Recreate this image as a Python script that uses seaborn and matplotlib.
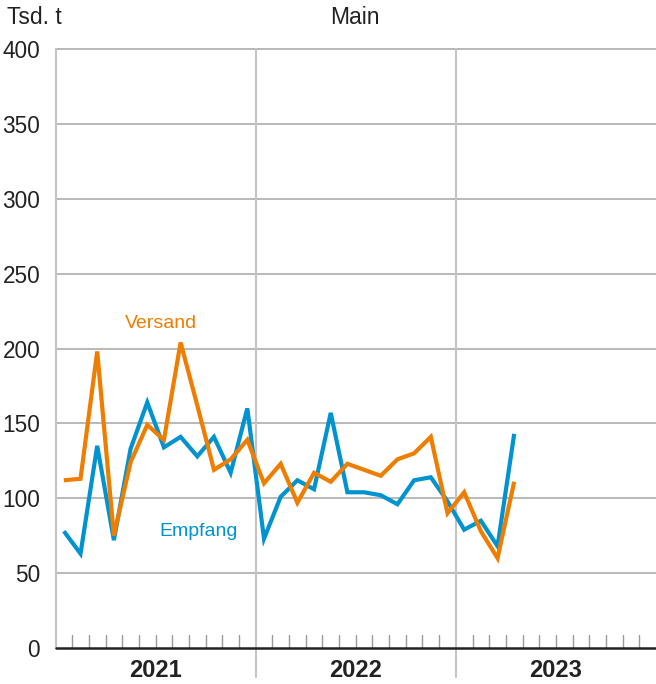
import matplotlib
matplotlib.use("Agg")
import matplotlib.pyplot as plt
import numpy as np
import pandas as pd
import seaborn as sns

# Monthly freight volume at the Main waterway, thousand tonnes (Jan 2021 onward)
months = np.arange(28)
empfang = [78, 63, 135, 72, 133, 164, 134, 141, 128, 141, 117, 160,
           73, 101, 112, 106, 157, 104, 104, 102, 96, 112, 114, 98,
           79, 85, 68, 143]
versand = [112, 113, 198, 75, 124, 149, 139, 204, 162, 119, 126, 139,
           110, 123, 97, 117, 111, 123, 119, 115, 126, 130, 141, 90,
           104, 78, 60, 111]
years = ["2021", "2022", "2023"]
yticks = [0, 50, 100, 150, 200, 250, 300, 350, 400]

series_names = ["Empfang", "Versand"]
colors = {"Empfang": "#0093D0", "Versand": "#EF7D00"}

df = pd.concat([
    pd.DataFrame({"Monat": months + 0.5, "Wert": empfang, "Reihe": "Empfang"}),
    pd.DataFrame({"Monat": months + 0.5, "Wert": versand, "Reihe": "Versand"}),
])

sns.set_theme(style="white")
plt.rcParams["font.family"] = ["Liberation Sans", "DejaVu Sans"]

fig = plt.figure(figsize=(6.56, 6.84), dpi=100)
ax = fig.add_axes([55.5 / 656, 36 / 684, 1 - 55.5 / 656, 599 / 684])

sns.lineplot(data=df, x="Monat", y="Wert", hue="Reihe", hue_order=series_names,
             palette=colors, linewidth=3.0, legend=False, ax=ax, zorder=3)
for line in ax.get_lines():
    line.set_solid_joinstyle("miter")
    line.set_solid_capstyle("butt")

ax.set_xlim(0, 36)
ax.set_ylim(0, 400)
ax.set_xlabel("")
ax.set_ylabel("")

# horizontal grid
for v in yticks[1:]:
    ax.axhline(v, color="#a6a6a6", lw=1.1, zorder=1, clip_on=False)

# year separators, extended below the baseline
for b in [0, 12, 24]:
    ax.axvline(b, ymin=-0.048 if b > 0 else 0, ymax=1, color="#c4c4c4",
               lw=1.5, zorder=1, clip_on=False)

# month ticks pointing upward from the baseline
minor = [m for m in range(1, 37) if m % 12 != 0]
for m in minor:
    ax.axvline(m, ymin=0, ymax=13 / 599, color="#9a9a9a", lw=1.0, zorder=2)

ax.axhline(0, color="#222222", lw=1.8, zorder=4, clip_on=False)

for s in ax.spines.values():
    s.set_visible(False)

ax.set_yticks(yticks)
ax.set_yticklabels([str(v) for v in yticks])
ax.tick_params(axis="y", length=0, pad=11, labelsize=16.3, labelcolor="#222222")
ax.set_xticks([])

for i, y in enumerate(years):
    ax.text(6 + 12 * i, -15, y, ha="center", va="center", fontsize=17,
            fontweight="bold", color="#222222")

ax.text(6.33, 217, "Versand", color=colors["Versand"], fontsize=14,
        ha="center", va="center")
ax.text(8.55, 78, "Empfang", color=colors["Empfang"], fontsize=14,
        ha="center", va="center")

fig.text(7 / 656, 1 - 18 / 684, "Tsd. t", fontsize=16.5, color="#222222",
         ha="left", va="center")
fig.text(355 / 656, 1 - 18 / 684, "Main", fontsize=16.5, color="#222222",
         ha="center", va="center")

fig.savefig("out.png", dpi=100)
